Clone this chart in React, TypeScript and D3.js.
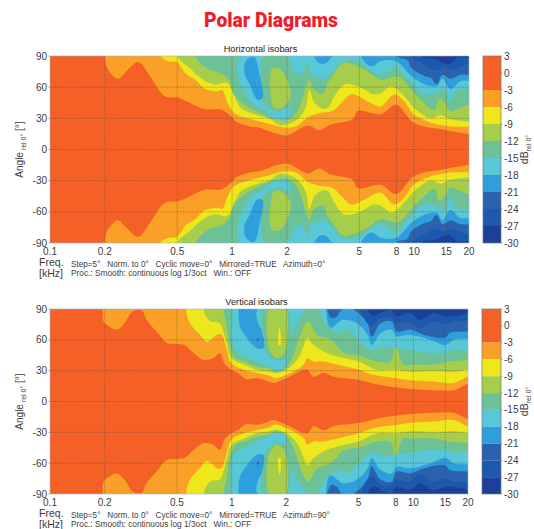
import React from "react";
import * as d3 from "d3";

type P = [number, number];

const freqTicks = [0.1, 0.2, 0.5, 1, 2, 5, 8, 10, 15, 20];
const angleTicks = [90, 60, 30, 0, -30, -60, -90];
const dbTicks = [3, 0, -3, -6, -9, -12, -15, -18, -21, -24, -27, -30];
const dbBands: [number, number][] = [[3, -3], [-3, -6], [-6, -9], [-9, -12], [-12, -15], [-15, -18], [-18, -21], [-21, -24], [-24, -27], [-27, -30]];
const bandColors = ["#F46127", "#FBA026", "#EDE71C", "#A6CE4B", "#6CC197", "#58C7D6", "#2E9FDC", "#2A62AE", "#1F58AD", "#1B3F97"];

// Horizontal isobars: contour of each level in the upper half [kHz, degrees]
const hM3: P[] = [[.2, 90], [.2066, 78], [.236, 68], [.255, 73], [.299, 84], [.315, 83], [.35, 72], [.43, 51], [.5, 50], [.556, 47], [.7, 39], [.87, 38.5], [1, 31], [1.05, 27], [1.27, 22], [1.41, 21], [1.63, 17], [2, 13.5], [2.6, 23], [3.02, 18.5], [3.49, 24], [4.59, 29], [4.9, 37], [6.55, 34], [7.96, 43], [10, 25.5], [14.6, 19], [20, 15]];
const hM6: P[] = [[.405, 90], [.45, 85], [.5, 84], [.556, 73], [.63, 67], [.7, 59], [.83, 56], [.885, 57], [.94, 46], [1.03, 35], [1.22, 30], [1.5, 26], [2, 21], [2.29, 23], [2.6, 31], [3.02, 35], [3.56, 37], [4.04, 46], [4.49, 53], [5.1, 50], [6.03, 43], [6.55, 41.5], [7.8, 53], [8.84, 46], [10, 33.5], [12.3, 26], [14.6, 23], [16.8, 22], [20, 22]];
const hM9: P[] = [[.5, 90], [.59, 78], [.67, 69], [.8, 62.5], [.94, 64], [1.03, 51], [1.12, 40], [1.38, 33], [1.63, 29], [1.78, 24], [2, 24], [2.29, 29], [2.55, 41.5], [2.65, 57.5], [2.83, 45], [3.08, 40], [3.35, 40], [3.64, 51], [4.13, 62.5], [4.9, 61], [6.03, 53], [6.55, 54], [7.47, 61], [8.84, 51], [10, 40], [12.3, 30], [14, 33], [15.8, 29], [20, 27]];
const hM12: P[] = [[.63, 90], [.73, 78], [.87, 73], [.96, 67], [1.03, 52.5], [1.17, 43], [1.38, 36], [1.63, 30], [1.78, 29], [2.06, 29], [2.29, 37], [2.55, 61], [2.65, 67], [2.83, 57.5], [3.15, 54], [3.35, 64], [3.64, 73], [4.04, 83], [4.9, 80], [5.8, 73], [6.55, 67], [8.14, 70], [10, 54], [11.3, 45], [12.9, 38], [13.7, 49], [14.6, 46], [15.8, 37], [18, 40], [20, 43]];
const hM15: P[] = [[1.09, 90], [1.07, 77], [1.14, 57.5], [1.27, 45], [1.5, 38], [1.63, 33], [1.78, 29], [2, 28], [2.15, 55], [2.24, 75], [2.39, 72], [2.6, 83], [2.71, 72], [2.83, 70], [3.15, 68], [3.49, 73], [4.04, 85], [5, 84], [5.8, 76], [6.3, 72], [6.84, 73], [7.96, 79], [9.2, 68], [11.3, 53], [12.9, 54], [14.6, 58], [15.8, 45], [16.8, 55], [20, 58]];
const hRing: P[] = [[1.5, 90], [1.44, 73], [1.41, 51], [1.6, 40], [1.82, 37], [2.1, 43], [2.24, 64], [2.15, 78], [1.98, 90]];
const hIsland: P[] = [[1.67, 78], [1.85, 77], [2.09, 57.5], [2.06, 48], [1.85, 40], [1.7, 40], [1.62, 57.5], [1.62, 73]];
const hM18a: P[] = [[2.83, 90], [3.02, 83], [3.27, 83], [3.64, 90]];
const hM18b: P[] = [[5.1, 90], [5.8, 80], [6.55, 85], [7.96, 85], [9.6, 71], [11.3, 63], [13.3, 61], [14.3, 68], [15.8, 58], [18, 66], [20, 66]];
const hM18c: P[] = [[1.19, 85], [1.32, 89], [1.41, 73], [1.47, 49.5], [1.38, 48], [1.24, 64], [1.17, 73]];
const hM21: P[] = [[8, 90], [9.2, 86], [9.6, 79], [11.3, 71], [12.3, 69], [13.3, 63], [14.3, 72], [15.8, 68], [18, 72], [20, 72]];
const hM24: P[] = [[9.6, 90], [10.6, 85], [11.3, 82], [13.2, 76], [14.6, 79], [15.8, 76], [18, 80], [20, 82]];
const hM27: P[] = [[11, 90], [11.3, 88], [12.9, 87], [15.5, 82], [17.2, 88], [20, 88]];

// Vertical isobars
const vM3: P[] = [[.195, 90], [.197, 78], [.205, 75], [.233, 70], [.254, 75], [.287, 88], [.32, 89], [.34, 79.5], [.386, 68], [.44, 57], [.5, 56], [.55, 55], [.62, 47], [.7, 40.5], [.79, 42], [.86, 47], [.92, 36], [1, 31], [1.09, 27.6], [1.2, 22], [1.4, 22.7], [1.62, 19], [1.7, 18], [2, 22.7], [2.6, 31], [2.83, 24], [3.2, 28], [3.65, 24], [5, 21], [6.6, 16], [8.1, 13.6], [10.1, 12], [13, 11], [16.7, 11], [20, 17]];
const vM6: P[] = [[.56, 90], [.59, 76], [.67, 65], [.73, 58], [.83, 65], [.88, 65], [.94, 50], [1, 37], [1.17, 31], [1.41, 27.6], [1.62, 25], [1.74, 22.7], [2, 26], [2.5, 36], [2.6, 42], [2.83, 39], [3.2, 39], [3.8, 36], [5, 31], [6, 26], [8.1, 22.7], [10, 20.5], [13, 19.5], [16.7, 18], [20, 24]];
const vM9: P[] = [[.7, 90], [.76, 78], [.86, 76], [.92, 63], [1, 42], [1.17, 36], [1.37, 31], [1.62, 29], [1.74, 27.6], [2, 31], [2.29, 40.5], [2.5, 55], [2.6, 62], [2.83, 55], [3.35, 47], [4.2, 42], [5, 39], [6.3, 31], [8, 31], [10, 29], [13, 30], [16.7, 29], [20, 31]];
const vM12: P[] = [[.9, 90], [.94, 73], [.98, 53.5], [1.05, 42], [1.18, 39], [1.37, 34], [1.62, 32], [1.74, 29], [1.94, 31], [2.15, 42], [2.29, 55], [2.5, 73], [2.65, 78], [2.95, 65], [3.5, 60], [4.2, 47], [5, 45], [6.3, 39], [7.5, 39], [8, 53.5], [8.8, 36], [10, 36], [13, 36], [15.9, 39], [20, 40.5]];
const vM15: P[] = [[1, 90], [1, 76], [1.02, 53.5], [1.11, 47], [1.26, 42], [1.5, 36], [1.74, 31], [1.94, 32.5], [2.1, 55], [2.2, 70], [2.29, 76], [2.6, 89], [2.95, 89], [3.3, 76], [3.8, 66.5], [4.3, 70], [5, 60], [5.8, 50], [6.9, 53.5], [8, 52], [9.6, 50], [12.4, 47], [15, 47], [16.7, 50], [20, 49]];
const vRing: P[] = [[1.5, 90], [1.47, 66.5], [1.56, 47], [1.78, 40.5], [2, 42], [2.15, 60], [2.1, 76], [2.03, 90]];
const vIsland: P[] = [[1.62, 90], [1.97, 90], [2.03, 66.5], [1.97, 49], [1.78, 42], [1.63, 49], [1.56, 66.5]];
const vIslandCore: P[] = [[1.83, 72], [1.87, 63], [1.86, 55], [1.81, 55], [1.81, 66.5]];
const vM18a: P[] = [[1.09, 90], [1.11, 73], [1.18, 65], [1.37, 52], [1.5, 52], [1.46, 70], [1.4, 76], [1.4, 90]];
const vM18b: P[] = [[3.3, 90], [3.5, 71.8], [4.1, 79.5], [4.9, 76], [5.6, 65], [5.9, 55], [6.6, 66.5], [7.6, 70], [8.1, 63.6], [9.6, 65], [12.4, 60], [15, 55], [16.7, 60], [20, 61]];
const vM21a: P[] = [[1.38, 61], [1.41, 61], [1.41, 59], [1.38, 59]];
const vM21b: P[] = [[3.35, 90], [3.56, 81], [3.8, 83], [4.1, 90]];
const vM21c: P[] = [[4.7, 90], [5, 86], [5.6, 76], [5.9, 63], [6.6, 76], [7.6, 78], [8.1, 68], [9.6, 70], [11.4, 65], [15, 62], [15.8, 66.5], [20, 68]];
const vM24: P[] = [[5.1, 90], [5.9, 73], [6.6, 81], [7.6, 81], [8, 76], [9.6, 78], [10.9, 71], [12.9, 78], [15, 75], [16.7, 78], [20, 78]];
const vM27: P[] = [[5.6, 90], [6.1, 83], [6.6, 86], [7.6, 89], [8, 83], [9.6, 86], [10.9, 79.5], [12.9, 86], [15, 83], [18.3, 84], [20, 86]];

const W = 534, H = 529;
const font = "'Liberation Sans', Arial, sans-serif";
const textColor = "#3c3c3c";

type Layer = { pts: P[]; band: number; closed?: boolean };

const hLayers: Layer[] = [
  { pts: hM3, band: 1 }, { pts: hM6, band: 2 }, { pts: hM9, band: 3 }, { pts: hM12, band: 4 }, { pts: hM15, band: 5 },
  { pts: hRing, band: 4, closed: true }, { pts: hIsland, band: 3, closed: true },
  { pts: hM18a, band: 6 }, { pts: hM18b, band: 6 }, { pts: hM18c, band: 6, closed: true },
  { pts: hM21, band: 7 }, { pts: hM24, band: 8 }, { pts: hM27, band: 9 },
];
const vLayers: Layer[] = [
  { pts: vM3, band: 1 }, { pts: vM6, band: 2 }, { pts: vM9, band: 3 }, { pts: vM12, band: 4 }, { pts: vM15, band: 5 },
  { pts: vRing, band: 4, closed: true }, { pts: vIsland, band: 3, closed: true }, { pts: vIslandCore, band: 2, closed: true },
  { pts: vM18a, band: 6 }, { pts: vM18b, band: 6 }, { pts: vM21a, band: 7, closed: true },
  { pts: vM21b, band: 7 }, { pts: vM21c, band: 7 }, { pts: vM24, band: 8 }, { pts: vM27, band: 9 },
];

type PanelProps = {
  id: string; title: string; titleX: number; layers: Layer[]; azimuth: string;
  left: number; right: number; top: number; bottom: number; barLeft: number; barRight: number;
};

function outline(p: Layer, sign: number, x: d3.ScaleLogarithmic<number, number>, y: d3.ScaleLinear<number, number>) {
  const pts: P[] = p.closed
    ? p.pts
    : [...p.pts, [24, p.pts[p.pts.length - 1][1]], [24, 130], [p.pts[0][0], 130]];
  const line = d3.line<P>()
    .x((d) => x(d[0]))
    .y((d) => y(sign * d[1]))
    .curve(d3.curveCatmullRomClosed.alpha(0.5));
  return line(pts) || "";
}

function Panel({ id, title, titleX, layers, azimuth, left, right, top, bottom, barLeft, barRight }: PanelProps) {
  const x = d3.scaleLog().domain([0.1, 20]).range([left, right]);
  const y = d3.scaleLinear().domain([-90, 90]).range([bottom, top]);
  const db = d3.scaleLinear().domain([3, -30]).range([top, bottom]);
  const midY = y(0);
  return (
    <g>
      <text x={titleX} y={top - 4} fontFamily={font} fontSize={9.2} textAnchor="middle" fill="#222">{title}</text>
      <clipPath id={id}><rect x={left} y={top} width={right - left} height={bottom - top} /></clipPath>
      <g filter="url(#soft)">
        <rect x={left} y={top} width={right - left} height={bottom - top} fill={bandColors[0]} />
        <g clipPath={`url(#${id})`}>
          {layers.map((l, i) => (
            <g key={i}>
              <path d={outline(l, 1, x, y)} fill={bandColors[l.band]} />
              <path d={outline(l, -1, x, y)} fill={bandColors[l.band]} />
            </g>
          ))}
          {freqTicks.slice(1, -1).map((f) => (
            <line key={f} x1={x(f)} x2={x(f)} y1={top} y2={bottom} stroke="#5a4a40" strokeOpacity={0.55} strokeWidth={0.8} strokeDasharray="1.5 1" />
          ))}
          {angleTicks.slice(1, -1).map((a) => (
            <line key={a} x1={left} x2={right} y1={y(a)} y2={y(a)} stroke="#5a4a40" strokeOpacity={0.55} strokeWidth={0.8} strokeDasharray="1.5 1" />
          ))}
        </g>
        <rect x={left} y={top} width={right - left} height={bottom - top} fill="none" stroke="#9fb6c8" strokeWidth={0.6} />
        {dbBands.map((b, i) => (
          <rect key={i} x={barLeft} y={db(b[0])} width={barRight - barLeft} height={db(b[1]) - db(b[0])} fill={bandColors[i]} />
        ))}
        <rect x={barLeft} y={top} width={barRight - barLeft} height={bottom - top} fill="none" stroke="#777" strokeWidth={0.7} />
      </g>
      {angleTicks.map((a) => (
        <g key={a}>
          <line x1={left - 1.5} x2={left} y1={y(a)} y2={y(a)} stroke="#777" strokeWidth={0.6} />
          <text x={left - 3} y={y(a) + 3.5} fontFamily={font} fontSize={10} textAnchor="end" fill={textColor}>{a}</text>
        </g>
      ))}
      {freqTicks.map((f) => (
        <text key={f} x={x(f)} y={bottom + 12} fontFamily={font} fontSize={10} textAnchor="middle" fill={textColor}>{f}</text>
      ))}
      {dbTicks.map((d) => (
        <g key={d}>
          <line x1={barRight} x2={barRight + 1.5} y1={db(d)} y2={db(d)} stroke="#777" strokeWidth={0.6} />
          <text x={barRight + 3} y={db(d) + 3.5} fontFamily={font} fontSize={10} fill={textColor}>{d}</text>
        </g>
      ))}
      <text transform={`translate(23,${midY}) rotate(-90)`} fontFamily={font} fontSize={10} textAnchor="middle" fill={textColor}>
        Angle<tspan fontSize={7} dy={2.5}> rel 0°</tspan><tspan dy={-2.5}> [°]</tspan>
      </text>
      <text transform={`translate(${barRight + 27},${(top + bottom) / 2}) rotate(-90)`} fontFamily={font} fontSize={10.5} textAnchor="middle" fill={textColor}>
        dB<tspan fontSize={7} dy={3}>rel 0°</tspan>
      </text>
      <text x={39} y={bottom + 23} fontFamily={font} fontSize={10.5} fill={textColor}>Freq.</text>
      <text x={39} y={bottom + 34} fontFamily={font} fontSize={10.5} fill={textColor}>[kHz]</text>
      <text x={71} y={bottom + 24} fontFamily={font} fontSize={8.2} fill={textColor} xmlSpace="preserve">{`Step=5°   Norm. to 0°   Cyclic move=0°   Mirrored=TRUE   Azimuth=${azimuth}`}</text>
      <text x={71} y={bottom + 33} fontFamily={font} fontSize={8.3} fill={textColor} xmlSpace="preserve">{"Proc.: Smooth: continuous log 1/3oct   Win.: OFF"}</text>
    </g>
  );
}

export default function App() {
  return (
    <svg width={W} height={H} viewBox={`0 0 ${W} ${H}`} style={{ position: "absolute", left: 0, top: 0, display: "block", background: "#fff" }}>
      <defs>
        <filter id="soft" x="-2%" y="-2%" width="104%" height="104%">
          <feGaussianBlur stdDeviation="0.45" />
        </filter>
      </defs>
      <text x={271} y={27} fontFamily="Roboto, 'Noto Sans', sans-serif" fontWeight={900} fontSize={19.5} textAnchor="middle" fill="#EE1D2B" textLength={134} lengthAdjust="spacingAndGlyphs">Polar Diagrams</text>
      <Panel id="clipH" title="Horizontal isobars" titleX={260.5} layers={hLayers} azimuth="0°" left={50} right={469} top={56} bottom={243} barLeft={483} barRight={501} />
      <Panel id="clipV" title="Vertical isobars" titleX={256.5} layers={vLayers} azimuth="90°" left={50} right={468} top={309} bottom={494} barLeft={482} barRight={501} />
    </svg>
  );
}
